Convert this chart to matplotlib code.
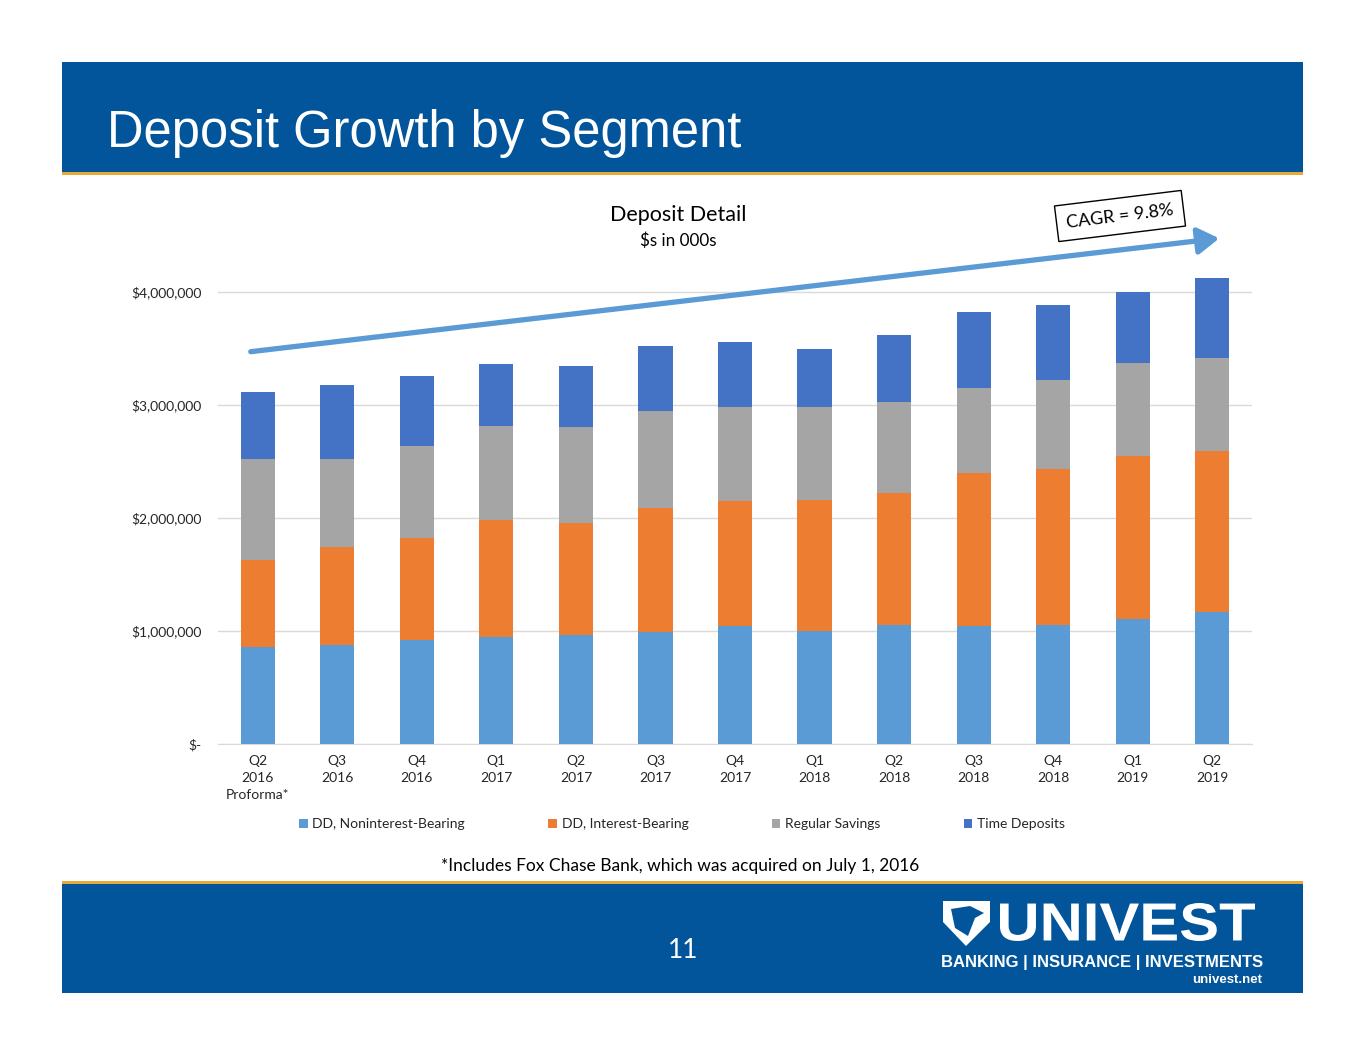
import matplotlib

matplotlib.use("Agg")
import matplotlib.pyplot as plt
import numpy as np
from matplotlib.patches import Rectangle, Polygon, FancyArrowPatch, PathPatch
from matplotlib.textpath import TextPath
from matplotlib.font_manager import FontProperties
from matplotlib.transforms import Affine2D
from matplotlib.ticker import FuncFormatter

W, H = 1365, 1055

quarters = ["Q2\n2016\nProforma*", "Q3\n2016", "Q4\n2016", "Q1\n2017", "Q2\n2017",
            "Q3\n2017", "Q4\n2017", "Q1\n2018", "Q2\n2018", "Q3\n2018",
            "Q4\n2018", "Q1\n2019", "Q2\n2019"]
# segment amounts, $ in 000s
dd_nonint = [858, 876, 920, 947, 965, 991, 1044, 1000, 1053, 1044, 1053, 1106, 1168]
dd_int = [770, 867, 903, 1035, 991, 1097, 1106, 1159, 1168, 1354, 1381, 1443, 1425]
savings = [894, 779, 814, 832, 849, 859, 832, 823, 806, 752, 787, 823, 823]
time_dep = [593, 655, 620, 549, 540, 575, 576, 514, 592, 673, 664, 628, 708]
series_names = ["DD, Noninterest-Bearing", "DD, Interest-Bearing",
                "Regular Savings", "Time Deposits"]
series_colors = ["#5B9BD5", "#ED7D31", "#A5A5A5", "#4472C4"]
y_ticks = [0, 1000000, 2000000, 3000000, 4000000]

BLUE = "#02559A"
GOLD = "#E8A935"


def fx(x):
    return x / W


def fy(y):
    return 1 - y / H


fig = plt.figure(figsize=(W / 100, H / 100), dpi=100)
fig.patch.set_facecolor("white")

# slide banners
fig.patches.append(Rectangle((fx(62), fy(172)), fx(1303) - fx(62), fy(62) - fy(172),
                             transform=fig.transFigure, fc=BLUE, ec="none", zorder=0))
fig.patches.append(Rectangle((fx(62), fy(175)), fx(1303) - fx(62), fy(172) - fy(175),
                             transform=fig.transFigure, fc=GOLD, ec="none", zorder=0))
fig.patches.append(Rectangle((fx(62), fy(884)), fx(1303) - fx(62), fy(881) - fy(884),
                             transform=fig.transFigure, fc=GOLD, ec="none", zorder=0))
fig.patches.append(Rectangle((fx(62), fy(993)), fx(1303) - fx(62), fy(884) - fy(993),
                             transform=fig.transFigure, fc=BLUE, ec="none", zorder=0))

fig.text(fx(107), fy(133), "Deposit Growth by Segment", color="white", fontsize=36.5,
         family="Liberation Sans", va="center", ha="left")

# chart
ax = fig.add_axes([fx(218), fy(744), fx(1252) - fx(218), fy(235.5) - fy(744)])
ax.set_facecolor("none")
x = np.arange(len(quarters))
bottom = np.zeros(len(quarters))
handles = []
for vals, name, color in zip([dd_nonint, dd_int, savings, time_dep], series_names, series_colors):
    v = np.array(vals) * 1000
    bars = ax.bar(x, v, 0.43, bottom=bottom, color=color, label=name, zorder=3)
    bottom += v
    handles.append(bars)

ax.set_xlim(-0.5, len(quarters) - 0.5)
ax.set_ylim(0, 4500000)
ax.set_yticks(y_ticks)
ax.yaxis.set_major_formatter(FuncFormatter(lambda v, p: "$-" if v == 0 else f"${v:,.0f}"))
ax.set_xticks(x)
ax.set_xticklabels(quarters, linespacing=1.5)
ax.tick_params(axis="both", length=0, labelsize=10, labelcolor="#262626")
ax.tick_params(axis="y", pad=12)
ax.tick_params(axis="x", pad=8)
for lab in ax.get_xticklabels() + ax.get_yticklabels():
    lab.set_family("Lato")
ax.grid(axis="y", color="#D9D9D9", linewidth=1, zorder=0)
for s in ["top", "right", "left"]:
    ax.spines[s].set_visible(False)
ax.spines["bottom"].set_color("#D9D9D9")

fig.legend(handles=handles, labels=series_names, loc="center", ncol=4,
           bbox_to_anchor=(fx(682), fy(824)), frameon=False,
           prop={"family": "Lato", "size": 10}, handlelength=0.6, handleheight=0.6,
           handletextpad=0.35, columnspacing=6.0, labelcolor="#262626")

fig.text(fx(678), fy(215), "Deposit Detail", ha="center", va="center",
         fontsize=15.5, family="Lato", color="black")
fig.text(fx(678), fy(241), "$s in 000s", ha="center", va="center",
         fontsize=12.3, family="Lato", color="black")

# CAGR arrow and label
fig.patches.append(FancyArrowPatch((fx(248), fy(352)), (fx(1222), fy(238)),
                                   transform=fig.transFigure, arrowstyle="-|>,head_length=8,head_width=5",
                                   mutation_scale=1.6, color="#5B9BD5", lw=3.8, zorder=5))
fig.text(fx(1120), fy(216), "CAGR = 9.8%", ha="center", va="center", rotation=7,
         rotation_mode="anchor", fontsize=13, family="Lato", color="black",
         bbox=dict(boxstyle="square,pad=0.55", fc="white", ec="black", lw=1), zorder=6)

fig.text(fx(680), fy(866), "*Includes Fox Chase Bank, which was acquired on July 1, 2016",
         ha="center", va="center", fontsize=12.5, family="Lato", color="black")

fig.text(fx(683), fy(950), "11", ha="center", va="center", fontsize=19,
         family="Lato", color="white")

# logo
shield = Polygon([(fx(943), fy(901)), (fx(990), fy(901)), (fx(990), fy(922)),
                  (fx(966), fy(946)), (fx(943), fy(922))],
                 closed=True, transform=fig.transFigure, fc="white", ec="none")
fig.patches.append(shield)
head = Polygon([(fx(951), fy(909)), (fx(970), fy(906)), (fx(984), fy(913)),
                (fx(975), fy(918)), (fx(968), fy(936)), (fx(955), fy(928))],
               closed=True, transform=fig.transFigure, fc=BLUE, ec="none")
fig.patches.append(head)

tp = TextPath((0, 0), "UNIVEST", size=50,
              prop=FontProperties(family="Liberation Sans", weight="bold"))
bb = tp.get_extents()
sx = (1255 - 1000) / bb.width
sy = (941 - 903) / bb.height
tr = Affine2D().translate(-bb.x0, -bb.y0).scale(sx / W, sy / H).translate(fx(1000), fy(941))
fig.patches.append(PathPatch(tp, transform=tr + fig.transFigure, fc="white", ec="none"))

fig.text(fx(1263), fy(962), "BANKING | INSURANCE | INVESTMENTS", ha="right", va="center",
         fontsize=12, family="Liberation Sans", weight="bold", color="white")
fig.text(fx(1262), fy(980), "univest.net", ha="right", va="center",
         fontsize=9.5, family="Liberation Sans", weight="bold", color="white")

plt.savefig("out.png", dpi=100)
plt.close()
